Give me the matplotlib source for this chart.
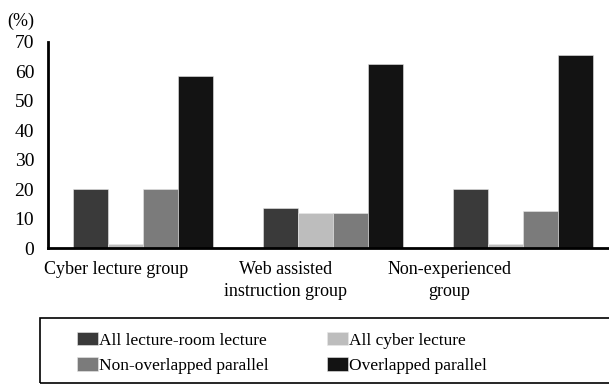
import numpy as np
import matplotlib
matplotlib.use("Agg")
import matplotlib.pyplot as plt
from matplotlib.patches import Rectangle

plt.rcParams["font.family"] = ["Liberation Serif", "DejaVu Serif"]

groups = ["Cyber lecture group", "Web assisted\ninstruction group", "Non-experienced\ngroup"]
series = ["All lecture-room lecture", "All cyber lecture",
          "Non-overlapped parallel", "Overlapped parallel"]
lecture_room = [20, 13.5, 20]
cyber = [1.5, 12, 1.5]
non_overlapped = [20, 12, 12.5]
overlapped = [58.5, 62.5, 65.5]
values = [lecture_room, cyber, non_overlapped, overlapped]
colors = ["#3a3a3a", "#bdbdbd", "#7b7b7b", "#131313"]

# group labels sit a little left of their bar clusters
label_x = [-0.14, 0.75, 1.61]

fig = plt.figure(figsize=(6.09, 3.84), dpi=100)
ax = fig.add_axes([0.079, 0.354, 0.921, 0.537])

x = np.arange(len(groups))
w = 0.184
bars = []
for i, (vals, c) in enumerate(zip(values, colors)):
    bars.append(ax.bar(x + (i - 1.5) * w, vals, width=w, color=c, label=series[i],
                       edgecolor="#e8e8e8", linewidth=0.4))

ax.set_ylim(0, 70)
ax.set_xlim(-0.497, 2.45)
ax.set_yticks(range(0, 71, 10))
ax.set_xticks(label_x, groups)
ax.tick_params(axis="y", length=0, labelsize=14, pad=10)
ax.tick_params(axis="x", length=0, labelsize=13, pad=9)
for lbl in ax.get_xticklabels():
    lbl.set_linespacing(1.4)
for s in ["top", "right"]:
    ax.spines[s].set_visible(False)
for s in ["left", "bottom"]:
    ax.spines[s].set_linewidth(2)
ax.text(-0.072, 1.1, "(%)", transform=ax.transAxes, fontsize=13,
        ha="left", va="center")

# legend box runs off the right edge
box = Rectangle((0.066, 0.003), 1.0, 0.168, transform=fig.transFigure,
                fill=False, edgecolor="black", linewidth=1.2, clip_on=False)
fig.add_artist(box)
order = [0, 2, 1, 3]
fig.legend([bars[i] for i in order], [series[i] for i in order],
           loc="center left", bbox_to_anchor=(0.112, 0.081), ncol=2,
           frameon=False, fontsize=12.5, handlelength=1.2, handleheight=0.85,
           handletextpad=0.08, columnspacing=3.35, labelspacing=0.5,
           borderpad=0)

fig.savefig("out.png", dpi=100)
